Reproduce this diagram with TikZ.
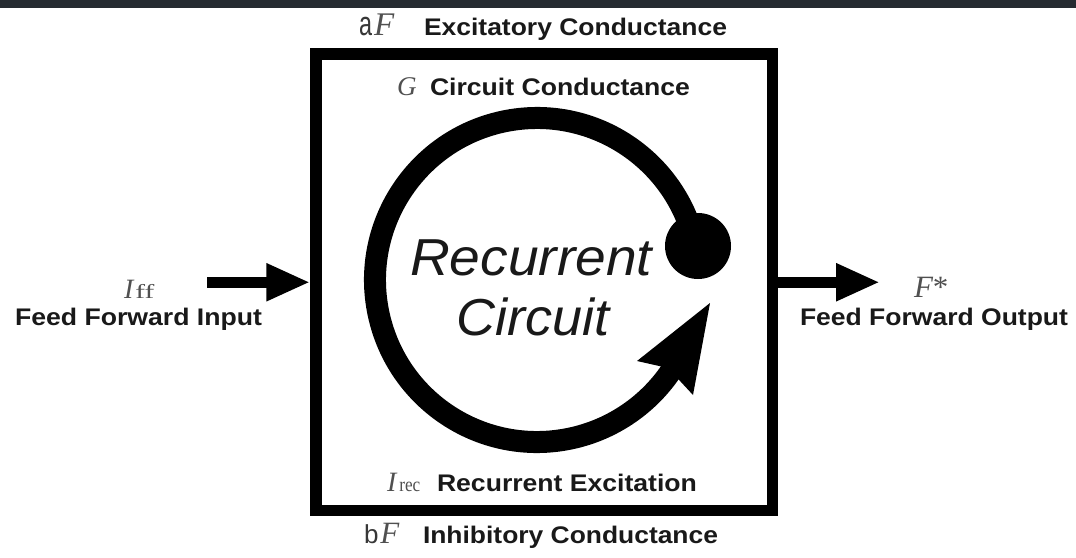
\documentclass[tikz,border=0pt]{standalone}
\usepackage{fontspec}
\usepackage{graphicx}
\setmainfont{Liberation Sans}
\newfontfamily\lserif{Liberation Serif}
\usetikzlibrary{arrows.meta}
\newcommand{\wbox}[2]{\resizebox{#1}{\height}{#2}}
\definecolor{band}{RGB}{38,43,49}
\definecolor{txt}{RGB}{25,25,25}
\definecolor{symc}{RGB}{55,55,55}
\definecolor{symf}{RGB}{80,80,80}
\begin{document}
\begin{tikzpicture}[x=1pt,y=-1pt,
  lbl/.style={inner sep=0pt, outer sep=0pt, anchor=base west, font=\fontsize{24}{28}\selectfont\bfseries, text=txt},
  sym/.style={inner sep=0pt, outer sep=0pt, anchor=base west, text=symc},
  big/.style={inner sep=0pt, anchor=base, font=\fontsize{52}{60}\selectfont\itshape, text=txt},
  ffarrow/.style={line width=11pt, -{Triangle[length=44pt,width=35pt]}},
  ring/.style={line width=22pt, draw=black}
]
\useasboundingbox (0,0) rectangle (1076,557);
\fill[white] (0,0) rectangle (1076,557);
\fill[band] (0,0) rectangle (1076,7.5);

% box
\node[draw, line width=11.5pt, minimum width=456.5pt, minimum height=456.5pt, inner sep=0pt] (box) at (544.25,282.25) {};

% ring with arrowhead
\coordinate (c) at (537,280);
\draw[ring] (c) ++(-12:162) arc[start angle=-12, end angle=-327, radius=162];
\fill[black] (710,303) coordinate (tip) -- (637,361) -- (668,368) -- (693,395) -- cycle;
\node[circle, fill=black, minimum size=66pt, inner sep=0pt] (dot) at (698,246) {};

% labels inside
\node[big] (rc1) at (531,275) {\wbox{242pt}{Recurrent}};
\node[big] (rc2) at (533.5,335) {\wbox{153pt}{Circuit}};

\node[sym] (G) at (397,95) {\fontsize{27}{28}\selectfont\lserif\itshape\color{symf}G};
\node[lbl] (cc) at (430,95) {\wbox{260pt}{Circuit Conductance}};

\node[sym] (Irec) at (387,491) {\fontsize{28}{28}\selectfont\lserif\itshape\color{symf}I\hspace{3pt}\upshape\fontsize{20}{20}\selectfont\wbox{21pt}{rec}};
\node[lbl] (re) at (437,491) {\wbox{260pt}{Recurrent Excitation}};

% labels outside
\node[sym] (aF) at (359,35) {\fontsize{34}{34}\selectfont\wbox{13pt}{a}\hspace{2pt}\lserif\itshape\fontsize{33}{33}\selectfont\color{symf}F};
\node[lbl] (ec) at (424,35) {\wbox{303pt}{Excitatory Conductance}};

\node[sym] (bF) at (364,543) {\fontsize{26}{28}\selectfont b\hspace{2pt}\lserif\itshape\fontsize{31}{31}\selectfont\color{symf}F};
\node[lbl] (ic) at (423,543) {\wbox{295pt}{Inhibitory Conductance}};

\node[sym] (Iff) at (124,298) {\fontsize{28}{28}\selectfont\lserif\itshape\color{symf}I\hspace{2pt}\upshape\fontsize{20}{20}\selectfont\wbox{19pt}{ff}};
\node[lbl] (ffi) at (15,325) {\wbox{247pt}{Feed Forward Input}};

\node[sym] (Fs) at (914,297) {\fontsize{31}{31}\selectfont\lserif\itshape\color{symf}F\upshape*};
\node[lbl] (ffo) at (800,325) {\wbox{268pt}{Feed Forward Output}};

% arrows
\coordinate (inp) at (207,282.25);
\coordinate (outp) at (880,282.25);
\draw[ffarrow] (inp) -- (box.west);
\draw[ffarrow] (box.east) -- (outp);
\end{tikzpicture}
\end{document}
